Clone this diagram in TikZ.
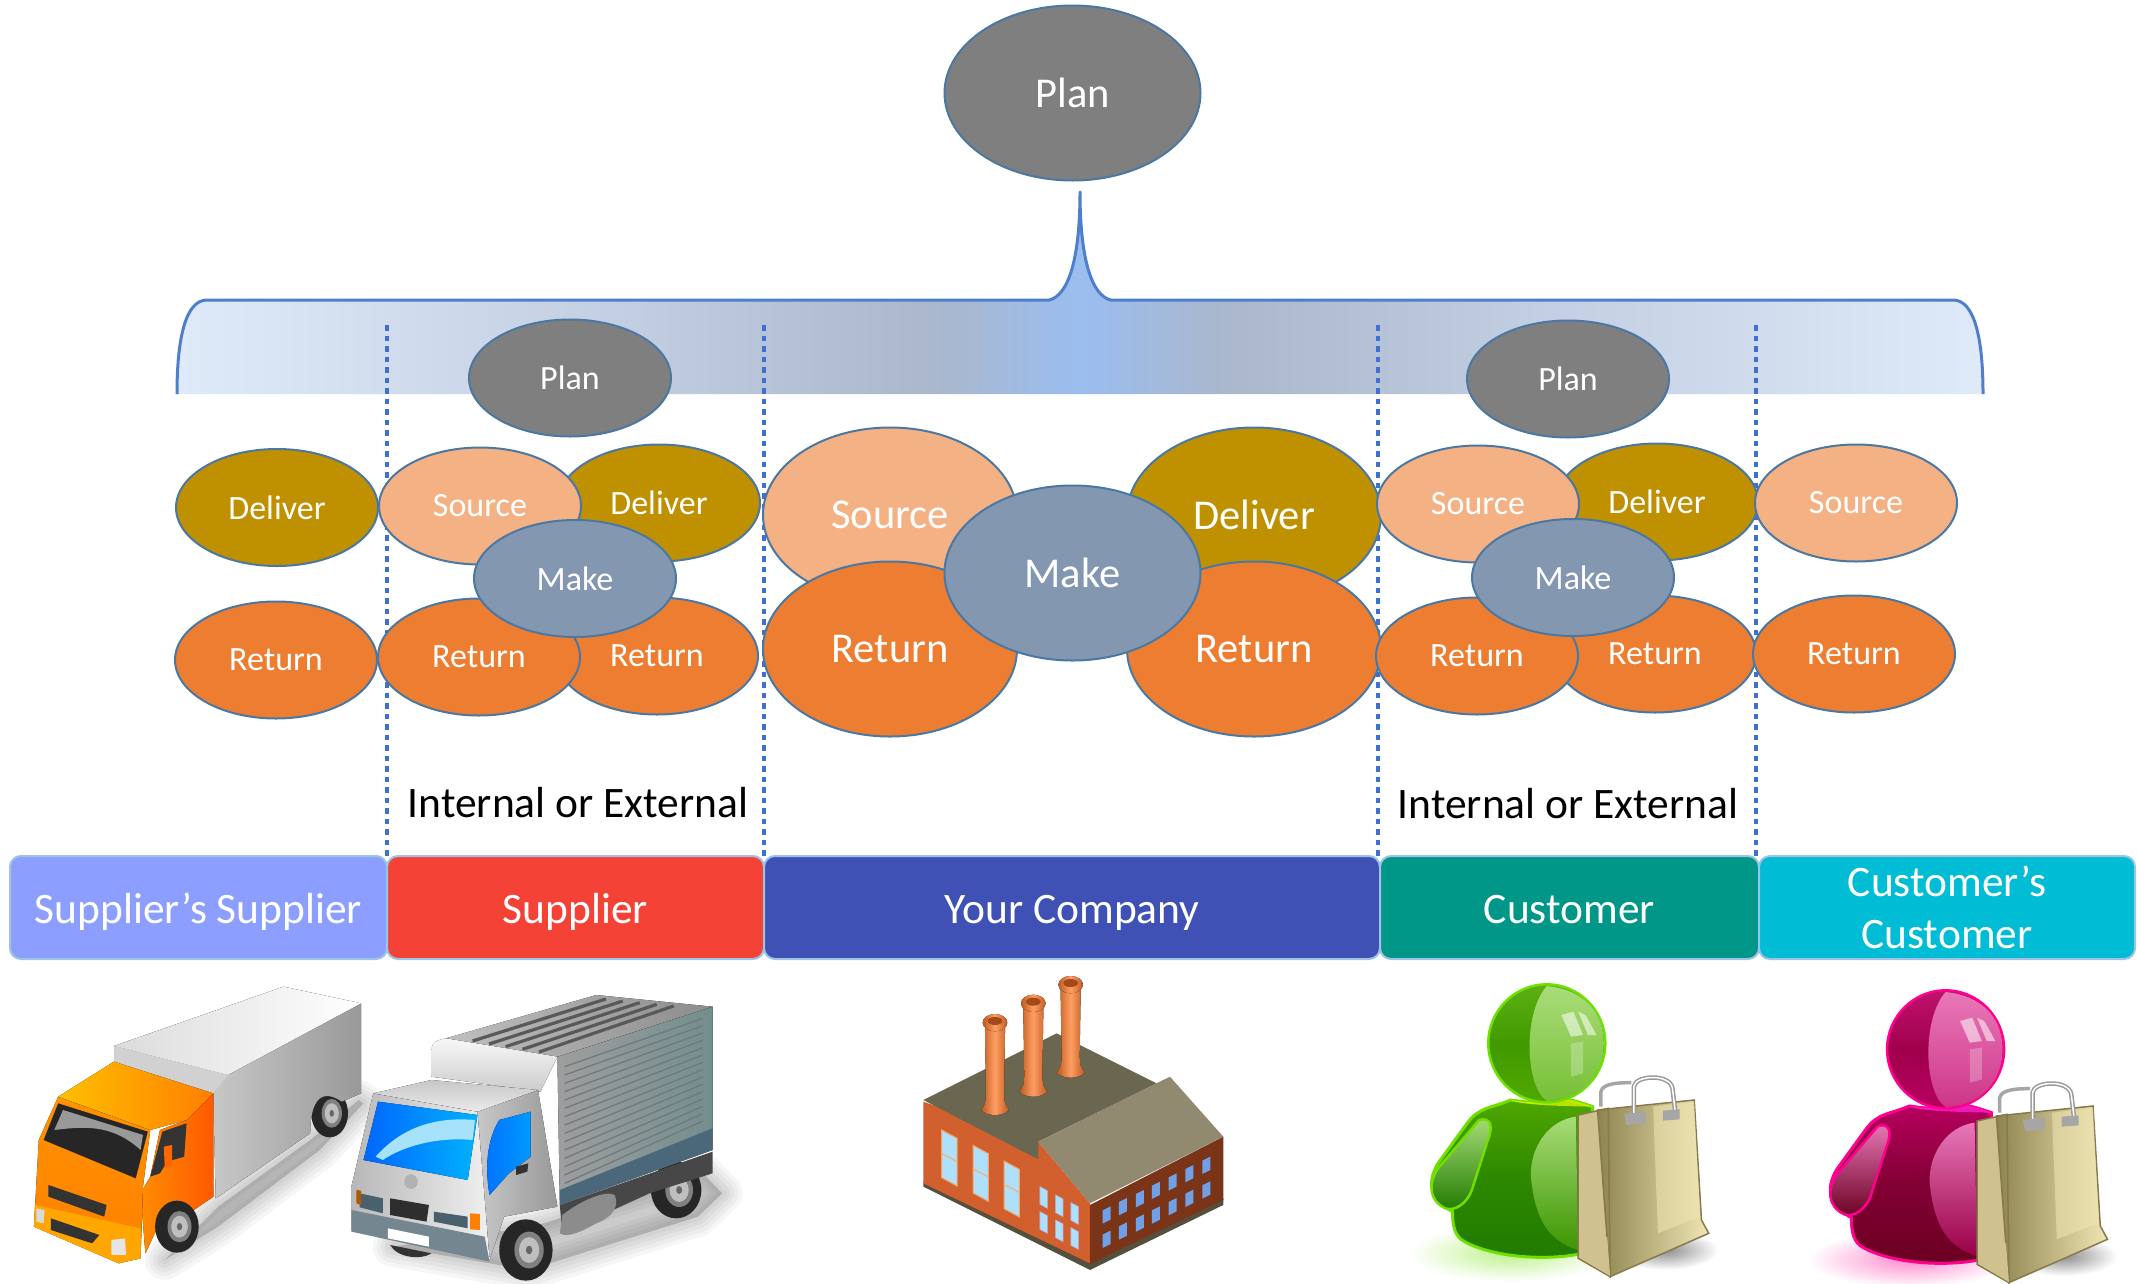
\documentclass[tikz,border=0pt]{standalone}
\usepackage{fontspec}
\setmainfont{Carlito}
\usetikzlibrary{shapes.geometric}
\definecolor{cDeliver}{HTML}{BF9000}
\definecolor{cSource}{HTML}{F4B183}
\definecolor{cReturn}{HTML}{ED7D31}
\definecolor{cMake}{HTML}{8497B0}
\definecolor{cPlan}{HTML}{7F7F7F}
\definecolor{cEdge}{HTML}{4A78A3}
\definecolor{cBrak}{HTML}{4F7FCB}
\definecolor{cDot}{HTML}{3F6FCF}
\definecolor{cBoxEdge}{HTML}{9DC3E6}
\definecolor{bA}{HTML}{8C9EFF}
\definecolor{bB}{HTML}{F44336}
\definecolor{bC}{HTML}{3F51B5}
\definecolor{bD}{HTML}{009688}
\definecolor{bE}{HTML}{00BCD4}
\definecolor{sA}{HTML}{DFEAF9}
\definecolor{sB}{HTML}{C3CFE2}
\definecolor{sC}{HTML}{AAB7CC}
\definecolor{sD}{HTML}{9ABEF0}
\definecolor{HouseBase}{HTML}{55503E}
\definecolor{HouseWall}{HTML}{D2602E}
\definecolor{HouseDark}{HTML}{7A3418}
\definecolor{HouseRoof}{HTML}{6B6650}
\definecolor{HouseRoofL}{HTML}{918A70}
\definecolor{HouseGlass}{HTML}{AEE0FA}
\definecolor{HouseWin}{HTML}{6FA0E8}
\pgfdeclarehorizontalshading{brackshade}{100bp}{
 color(0bp)=(sA); color(25bp)=(sA); color(37bp)=(sB); color(46bp)=(sC); color(50bp)=(sD);
 color(54bp)=(sC); color(63bp)=(sB); color(75bp)=(sA); color(100bp)=(sA)}
% wheel helper
\newcommand{\wheelicon}[4]{%
 \fill[black!85] (#1,#2) ellipse [x radius=#3, y radius=#4];
 \fill[black!50] ({#1+0.12*#3},#2) ellipse [x radius=0.55*#3, y radius=0.6*#4];
 \fill[black!25] ({#1+0.12*#3},#2) ellipse [x radius=0.38*#3, y radius=0.42*#4];
 \fill[black!60] ({#1+0.12*#3},#2) ellipse [x radius=0.12*#3, y radius=0.14*#4];
}
\newcommand{\chimneyicon}[3]{%
 \fill[left color=ChimD, right color=ChimD, middle color=ChimL]
  ({#1-30},{#2+10}) -- ({#1-30},{#2+40}) -- ({#1-27},{#3-50}) .. controls ({#1-28},{#3-20}) .. ({#1-42},#3)
  .. controls ({#1-20},{#3+20}) and ({#1+20},{#3+20}) .. ({#1+42},#3)
  .. controls ({#1+28},{#3-20}) .. ({#1+27},{#3-50}) -- ({#1+30},{#2+40}) -- ({#1+30},{#2+10}) -- cycle;
 \fill[left color=ChimD, right color=ChimD, middle color=ChimL] (#1,{#2+8}) ellipse [x radius=37, y radius=26];
 \fill[ChimR] (#1,{#2+3}) ellipse [x radius=22, y radius=12];
}
\definecolor{ChimD}{HTML}{BE5A22}
\definecolor{ChimL}{HTML}{FF9E62}
\definecolor{ChimR}{HTML}{A34A1A}
% person with a shopping bag (coordinates of the green one)
\newcommand{\shopper}[5]{%
 \shade[inner color=#3!45, outer color=white] (270,880) ellipse [x radius=210, y radius=85];
 % body
 \shade[top color=#2, bottom color=#1, middle color=#1!70!#2, draw=#3, line width=3pt]
  (270,420) .. controls (230,445) and (205,440) .. (180,490) -- (120,610)
  .. controls (95,670) and (105,720) .. (150,755) .. controls (150,800) and (155,830) .. (175,845)
  .. controls (230,890) and (340,905) .. (420,880) -- (440,440) .. controls (400,420) and (380,410) .. (345,425)
  .. controls (320,430) and (295,425) .. (270,420) -- cycle;
 \fill[#4,opacity=.8] (270,420) .. controls (300,438) and (390,438) .. (440,440) .. controls (400,420) and (380,410) .. (345,425) .. controls (320,430) and (295,425) .. (270,420) -- cycle;
 % body gloss
 \shade[top color=#5, bottom color=#2!60!#1] (405,470) .. controls (350,480) and (310,560) .. (312,650) .. controls (320,760) and (340,840) .. (410,870) -- cycle;
 % arm
 \shade[top color=#5, bottom color=#1, draw=#3, line width=2.5pt]
  (205,480) .. controls (230,470) and (235,500) .. (222,545) -- (190,690)
  .. controls (180,730) and (155,755) .. (135,745) .. controls (100,720) and (100,670) .. (120,625) -- cycle;
 % head
 \shade[top color=#2!85!#5, bottom color=#2, middle color=#2!70!#1, draw=#3, line width=2.5pt] (345,250) ellipse [x radius=121, y radius=177];
 \shade[top color=#5, bottom color=#2!55!#5] (345,78) .. controls (430,90) and (463,170) .. (463,250) .. controls (463,340) and (420,420) .. (345,423) .. controls (300,380) and (295,160) .. (345,78) -- cycle;
 \fill[white,opacity=.55] (375,165) -- (400,155) -- (420,225) -- (395,230) -- cycle;
 \fill[white,opacity=.55] (410,155) -- (425,165) -- (448,225) -- (430,225) -- cycle;
 \fill[white,opacity=.25] (395,250) -- (420,245) -- (420,340) -- (395,350) -- cycle;
 % bag shadow
 \shade[inner color=black!45, outer color=white] (590,870) ellipse [x radius=110, y radius=60];
 % handles behind
 \draw[black!35,line width=3.5pt] (457,440) -- (457,395) .. controls (460,368) and (500,368) .. (520,368);
 % bag
 \fill[BagSide] (410,465) -- (472,445) -- (476,950) -- (410,895) -- cycle;
 \shade[left color=BagDark, right color=BagLight, draw=BagEdge, line width=1.5pt]
  (450,450) -- (650,420) -- (665,780) -- (680,820) -- (476,950) -- (470,840) -- cycle;
 \draw[BagEdge,line width=1.5pt] (410,465) -- (472,445) -- (476,950) -- (410,895) -- cycle;
 \fill[BagLight,opacity=.55] (565,440) -- (650,425) -- (662,770) -- (575,820) -- cycle;
 \fill[BagSide] (412,893) -- (470,830) -- (476,948) -- cycle;
 % handles
 \draw[black!40,line width=4.5pt] (525,475) -- (525,380) .. controls (528,345) and (600,340) .. (605,385) -- (612,470);
 \draw[white,line width=1.5pt] (525,475) -- (525,380) .. controls (528,345) and (600,340) .. (605,385) -- (612,470);
 \fill[black!35] (505,462) -- (550,455) -- (550,490) -- (510,495) -- cycle;
 \fill[black!35] (585,452) -- (620,448) -- (620,478) -- (585,482) -- cycle;
}
\definecolor{BagSide}{HTML}{CFC28E}
\definecolor{BagDark}{HTML}{8E8450}
\definecolor{BagLight}{HTML}{EFE6B4}
\definecolor{BagEdge}{HTML}{86794A}
\definecolor{gDark}{HTML}{1F7A00}
\definecolor{gMid}{HTML}{4FA800}
\definecolor{gBright}{HTML}{6FE000}
\definecolor{gRim}{HTML}{D8F000}
\definecolor{gGloss}{HTML}{A8DC78}
\definecolor{pDark}{HTML}{6A0020}
\definecolor{pMid}{HTML}{B80060}
\definecolor{pBright}{HTML}{FF0090}
\definecolor{pRim}{HTML}{FF20D0}
\definecolor{pGloss}{HTML}{E878B8}
\newcommand{\evenline}[1]{\rule[-8pt]{0pt}{47pt}#1}
\tikzset{
 oval/.style={ellipse,draw=cEdge,line width=2pt,inner sep=0pt,text=white},
 smalloval/.style={oval,minimum width=202pt,minimum height=117pt,font=\fontsize{34}{38}\selectfont},
 bigoval/.style={oval,minimum width=254pt,minimum height=175pt,font=\fontsize{42.5}{48}\selectfont},
 partbox/.style={rounded corners=11pt,draw=cBoxEdge,line width=2pt,text=white,inner sep=0pt,
   minimum height=103pt,align=center,font=\fontsize{43.5}{52}\selectfont},
 tierline/.style={cDot,line width=4.5pt,dash pattern=on 5.5pt off 5pt},
 note/.style={text=black,font=\fontsize{43.5}{50}\selectfont,inner sep=0pt},
}
\begin{document}
\begin{tikzpicture}[x=1pt,y=-1pt]
\useasboundingbox (0,0) rectangle (2138,1283);
\clip (0,0) rectangle (2138,1283);
\fill[white] (0,0) rectangle (2138,1283);
% bracket
\shade[shading=brackshade]
 (177,394) .. controls (177,340) and (185,300) .. (207,300) -- (1049,300)
 .. controls (1068,296) and (1080,260) .. (1080,192)
 .. controls (1080,260) and (1092,296) .. (1111,300) -- (1953,300)
 .. controls (1975,300) and (1983,340) .. (1983,394) -- cycle;
\draw[cBrak,line width=3pt,line join=round]
 (177,394) .. controls (177,340) and (185,300) .. (207,300) -- (1049,300)
 .. controls (1068,296) and (1080,260) .. (1080,192)
 .. controls (1080,260) and (1092,296) .. (1111,300) -- (1953,300)
 .. controls (1975,300) and (1983,340) .. (1983,394);
% tier lines
\coordinate (t1) at (387,325); \coordinate (b1) at (387,856);
\coordinate (t2) at (764,325); \coordinate (b2) at (764,856);
\coordinate (t3) at (1378,325); \coordinate (b3) at (1378,856);
\coordinate (t4) at (1756,325); \coordinate (b4) at (1756,856);
\draw[tierline] (t1) -- (b1);
\draw[tierline] (t2) -- (b2);
\draw[tierline] (t3) -- (b3);
\draw[tierline] (t4) -- (b4);
% top plan
\node[bigoval,fill=cPlan,minimum width=256pt] (planTop) at (1072.5,93) {Plan};
% supplier's supplier
\node[smalloval,fill=cDeliver] (delA) at (277,507.5) {Deliver};
\node[smalloval,fill=cReturn] (retA) at (276,660) {Return};
% supplier
\node[smalloval,fill=cPlan] (planB) at (570,378) {Plan};
\node[smalloval,fill=cDeliver] (delB) at (659,503) {Deliver};
\node[smalloval,fill=cSource] (srcB) at (480,506) {Source};
\node[smalloval,fill=cReturn] (retB2) at (657,656) {Return};
\node[smalloval,fill=cReturn] (retB1) at (479,657) {Return};
\node[smalloval,fill=cMake] (mkB) at (575,578.5) {Make};
% your company
\node[bigoval,fill=cSource] (srcC) at (890,515) {Source};
\node[bigoval,fill=cDeliver] (delC) at (1254,515) {Deliver};
\node[bigoval,fill=cReturn] (retC1) at (890,649) {Return};
\node[bigoval,fill=cReturn] (retC2) at (1254,649) {Return};
\node[bigoval,fill=cMake,minimum width=256pt] (mkC) at (1072.5,573) {Make};
% customer
\node[smalloval,fill=cPlan] (planD) at (1568,379) {Plan};
\node[smalloval,fill=cDeliver] (delD) at (1657,502) {Deliver};
\node[smalloval,fill=cSource] (srcD) at (1478,504) {Source};
\node[smalloval,fill=cReturn] (retD2) at (1655,654) {Return};
\node[smalloval,fill=cReturn] (retD1) at (1477,656) {Return};
\node[smalloval,fill=cMake] (mkD) at (1573,577.5) {Make};
% customer's customer
\node[smalloval,fill=cSource] (srcE) at (1856,503) {Source};
\node[smalloval,fill=cReturn] (retE) at (1854,654) {Return};
% notes
\node[note] (noteL) at (578,803) {Internal or External};
\node[note] (noteR) at (1568,804) {Internal or External};
% boxes
\node[partbox,fill=bA,minimum width=377pt] (boxA) at (198.5,907.5) {\evenline{Supplier’s Supplier}};
\node[partbox,fill=bB,minimum width=377pt] (boxB) at (575.5,907.5) {\evenline{Supplier}};
\node[partbox,fill=bC,minimum width=616pt] (boxC) at (1072,907.5) {\evenline{Your Company}};
\node[partbox,fill=bD,minimum width=379pt] (boxD) at (1569.5,907.5) {\evenline{Customer}};
\node[partbox,fill=bE,minimum width=376pt] (boxE) at (1947,907.5) {Customer’s\\Customer};
% orange truck
\begin{scope}[shift={(0,960)},x=0.4847pt,y=-0.3333pt]
 \foreach \w in {40,32,24,16,8}
  \draw[black,opacity=.035,line width=\w pt,line join=round,fill=black]
   (340,900) -- (450,740) -- (640,540) -- (740,420) -- (750,430) -- (660,570) -- (450,800) -- cycle;
 \wheelicon{680}{460}{38}{72}
 \fill[left color=black!22, right color=black!40]
  (460,350) -- (745,130) -- (745,400) -- (705,425) .. controls (660,380) and (640,430) .. (640,520) -- (445,715) -- (440,400) -- cycle;
 \fill[left color=black!14, right color=white] (235,258) -- (585,80) -- (745,130) -- (470,345) -- cycle;
 \fill[black!18] (235,258) -- (470,345) -- (440,400) -- (235,305) -- cycle;
 \fill[left color=orange!90!yellow, right color=orange!70!red] (440,400) -- (440,710) -- (395,755) -- (350,725) -- (300,880) -- (290,700) -- (310,650) -- (330,510) -- (385,480) -- cycle;
 \fill[top color=orange!85!yellow, bottom color=orange] (120,410) -- (80,540) -- (70,800) -- (245,910) -- (290,895) -- (295,680) -- (310,510) -- cycle;
 \fill[orange!70!yellow] (72,735) -- (290,805) -- (290,895) -- (245,910) -- (70,800) -- cycle;
 \fill[left color=yellow!50!orange, right color=orange] (235,305) -- (440,400) -- (385,480) -- (310,510) -- (120,410) -- cycle;
 \fill[black!85] (120,430) -- (305,515) -- (280,655) -- (90,540) -- cycle;
 \fill[black!40] (130,450) -- (295,525) -- (290,570) .. controls (230,490) and (170,500) .. (112,510) -- cycle;
 \fill[black!80] (100,675) -- (220,735) -- (215,770) -- (100,710) -- cycle;
 \fill[black!80] (105,775) -- (205,825) -- (190,850) -- (105,810) -- cycle;
 \fill[black!10] (230,840) -- (258,835) -- (260,885) -- (230,885) -- cycle;
 \fill[black!15] (75,745) -- (92,750) -- (90,790) -- (75,785) -- cycle;
 \fill[black!80] (335,515) -- (385,490) -- (380,590) -- (345,605) -- (330,640) -- (310,650) -- cycle;
 \fill[orange!80!red] (338,560) -- (355,555) -- (355,620) -- (340,625) -- cycle;
 \wheelicon{365}{800}{45}{78}
\end{scope}
% silver truck
\begin{scope}[shift={(0,960)},x=0.4847pt,y=-0.3333pt]
 \foreach \w in {40,32,24,16,8}
  \draw[black,opacity=.035,line width=\w pt,line join=round,fill=black]
   (810,860) -- (1090,930) -- (1440,770) -- (1490,700) -- (1450,640) -- (1100,800) -- cycle;
 \wheelicon{1395}{690}{52}{85}
 \fill[black!72] (1155,735) -- (1470,575) -- (1470,640) -- (1340,700) -- (1160,820) -- cycle;
 \fill[left color=black!38, right color=black!45!cyan!35!black!55] (1150,290) -- (1470,140) -- (1470,570) -- (1155,735) -- cycle;
 \foreach \i in {0,...,14}
  \draw[black!55!cyan!40!black!70,line width=1.3pt] (1165,{320+\i*25}) -- (1450,{175+\i*22});
 \fill[black!10!cyan!45!black] (1155,690) -- (1470,505) -- (1470,570) -- (1155,735) -- cycle;
 \fill[left color=black!25,right color=black!45] (920,235) -- (1230,105) -- (1470,140) -- (1150,290) -- cycle;
 \foreach \ax/\ay/\bx/\by in {975/243/1250/117,1009/252/1285/123,1043/260/1320/128,1078/268/1355/133,1112/276/1390/138}
  \draw[black!65,line width=3.2pt] (\ax,\ay) -- (\bx,\by);
 \fill[top color=black!3,bottom color=black!20] (920,235) -- (1150,290) -- (1115,395) -- (890,350) -- (890,270) .. controls (890,250) and (900,240) .. (920,235) -- cycle;
 \fill[black!45] (1160,765) .. controls (1200,720) and (1250,690) .. (1268,705) .. controls (1280,740) and (1260,775) .. (1230,790) .. controls (1200,815) and (1170,835) .. (1155,820) -- cycle;
 \fill[left color=black!22, right color=black!40] (985,455) -- (1110,390) -- (1150,740) -- (1040,770) -- (1010,900) -- (1000,720) -- cycle;
 \fill[left color=black!28, right color=black!6] (770,400) -- (985,455) -- (1000,720) -- (1010,900) -- (725,810) -- (725,680) -- cycle;
 \fill[top color=black!22, bottom color=black!8] (770,400) -- (890,360) -- (1110,390) -- (985,455) -- cycle;
 \fill[left color=blue!60!cyan, right color=cyan!70!blue] (780,425) -- (985,465) -- (965,660) -- (750,600) -- cycle;
 \fill[cyan!35] (775,590) .. controls (830,500) and (900,470) .. (980,480) -- (975,540) .. controls (900,530) and (830,560) .. (790,600) -- cycle;
 \fill[left color=blue!55!cyan, right color=cyan!60!blue] (1030,480) -- (1095,455) -- (1095,590) -- (1050,640) -- (1010,705) .. controls (1000,620) and (1005,540) .. (1030,480) -- cycle;
 \fill[black!80] (1065,620) -- (1090,610) -- (1088,635) -- (1065,645) -- cycle;
 \fill[black!30] (848,665) ellipse [x radius=14, y radius=22];
 \fill[black!35!cyan!45!black!70] (725,750) -- (1000,830) -- (1010,905) -- (725,815) -- cycle;
 \fill[black!82] (805,715) -- (885,735) -- (880,785) -- (805,765) -- cycle;
 \fill[black!30!cyan!50!black] (742,700) -- (790,715) -- (790,760) -- (742,742) -- cycle;
 \fill[black!30!cyan!50!black] (895,755) -- (965,770) -- (965,805) -- (895,785) -- cycle;
 \fill[orange] (970,760) -- (990,762) -- (990,810) -- (970,808) -- cycle;
 \fill[orange!70!black] (735,690) -- (745,692) -- (745,735) -- (735,730) -- cycle;
 \fill[white] (800,805) -- (885,830) -- (885,860) -- (800,835) -- cycle;
 \fill[black!80] (805,855) -- (890,880) .. controls (870,900) and (820,895) .. (805,855) -- cycle;
 \wheelicon{1085}{870}{55}{92}
\end{scope}
% factory
\begin{scope}[shift={(880,960)},x=0.3333pt,y=-0.3333pt]
 \fill[HouseBase] (130,665) -- (630,905) -- (1030,715) -- (1030,735) -- (630,930) -- (130,680) -- cycle;
 \fill[HouseWall] (130,425) -- (475,545) -- (630,730) -- (630,910) -- (130,670) -- cycle;
 \fill[HouseDark] (630,735) -- (1030,530) -- (1030,720) -- (630,912) -- cycle;
 \fill[HouseRoof] (130,420) -- (530,220) -- (830,370) -- (475,545) -- (475,598) -- cycle;
 \fill[HouseRoofL] (475,545) -- (870,350) -- (1030,530) -- (630,730) -- cycle;
 \chimneyicon{345}{180}{450}
 \chimneyicon{460}{122}{395}
 \chimneyicon{572}{66}{338}
 \foreach \x/\y in {185/510,279/556,372/603} {
  \fill[HouseGlass,draw=cReturn!70,line width=1pt] (\x,\y) -- ({\x+46},{\y+25}) -- ({\x+46},{\y+168}) -- (\x,{\y+143}) -- cycle;
  \draw[cReturn!60,line width=1.2pt] (\x,{\y+70}) -- ({\x+46},{\y+95});
 }
 \foreach \x/\y in {480/680,527/705,573/728} {
  \fill[HouseGlass,draw=black!30!blue!30,line width=.6pt] (\x,\y) -- ({\x+22},{\y+12}) -- ({\x+22},{\y+65}) -- (\x,{\y+53}) -- cycle;
  \fill[HouseGlass,draw=black!30!blue!30,line width=.6pt] (\x,{\y+75}) -- ({\x+22},{\y+87}) -- ({\x+22},{\y+140}) -- (\x,{\y+128}) -- cycle;
 }
 \foreach \x/\y in {680/765,729/740,780/716,828/691,878/666,928/641,979/616,680/838,729/813,780/789,828/765,878/740,928/715,979/690}
  \fill[HouseWin] ({\x-12},{\y-14}) -- ({\x+12},{\y-26}) -- ({\x+12},{\y+14}) -- ({\x-12},{\y+26}) -- cycle;
\end{scope}
% shoppers
\begin{scope}[shift={(1380,960)},x=0.4834pt,y=-0.3333pt]
 \shopper{gDark}{gMid}{gBright}{gRim}{gGloss}
\end{scope}
\begin{scope}[shift={(1778.8,966)},x=0.4834pt,y=-0.3333pt]
 \shopper{pDark}{pMid}{pBright}{pRim}{pGloss}
\end{scope}
\end{tikzpicture}
\end{document}
